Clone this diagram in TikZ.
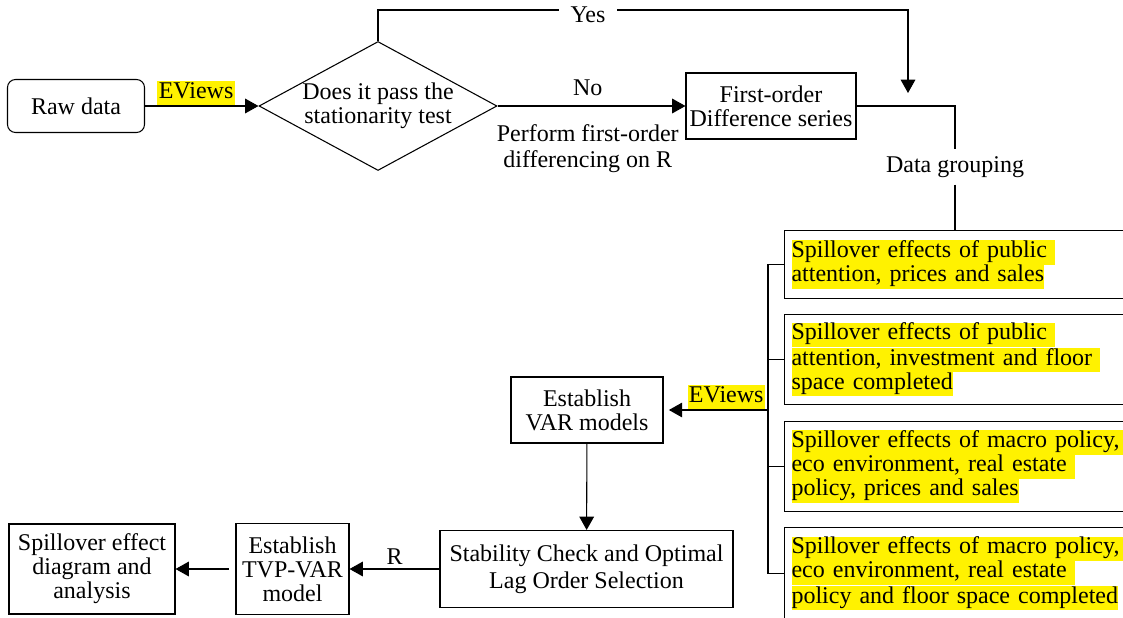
\documentclass[tikz,border=0pt]{standalone}
\usepackage{fontspec}
\setmainfont{Liberation Serif}
\usetikzlibrary{arrows.meta,shapes.geometric}
\newcommand\hlline[1]{{\setlength{\fboxsep}{0pt}\colorbox{yellow}{\strut#1}}}
\tikzset{%
  >={Triangle[length=10pt,width=11pt]}, % filled arrow heads
  every node/.style={font=\fontsize{18}{18}\selectfont},
  box/.style={draw,rectangle,inner sep=2pt,align=center},
  spill/.style={draw,rectangle,anchor=north west,minimum width=259.5pt,
    text width=249pt,inner xsep=5.25pt,inner ysep=0pt,align=left},
  soft label/.style={fill=yellow,inner xsep=1pt,inner ysep=0pt}%
}
\begin{document}
\begin{tikzpicture}[x=0.75pt,y=-0.75pt,line width=0.8pt] % "SPILLOVER" flow chart

\useasboundingbox (0,0) rectangle (1123,617);
\clip (0,0) rectangle (1123,617);

% top row
\node[box,rounded corners=6pt,minimum width=102.75pt,minimum height=39.75pt] (raw) at (76,106) {Raw data};
\node[draw,diamond,shape aspect=1.845,inner sep=0pt,minimum width=178.5pt,
  minimum height=96.75pt,align=center] (test) at (378,106) {Does it pass the\\stationarity test};
\node[box,minimum width=127.5pt,minimum height=49.5pt] (diff) at (771,106) {First-order\\Difference series};
\node[inner sep=0pt,minimum height=25.5pt] (group) at (955,167) {Data grouping};

% grouped data
\node[spill,minimum height=51pt] (g1) at (784,230)
  {\hlline{Spillover effects of public\ }\\\hlline{attention, prices and sales}};
\node[spill,minimum height=67.5pt] (g2) at (784,314)
  {\hlline{Spillover effects of public\ }\\\hlline{attention, investment and floor\ }\\\hlline{space completed}};
\node[spill,minimum height=67.5pt] (g3) at (784,421)
  {\hlline{Spillover effects of macro policy,\ }\\\hlline{eco environment, real estate\ }\\\hlline{policy, prices and sales}};
\node[spill,minimum height=69pt] (g4) at (784,527)
  {\hlline{Spillover effects of macro policy,\ }\\\hlline{eco environment, real estate\ }\\\hlline{policy and floor space completed}};

% models
\node[box,minimum width=114pt,minimum height=49.5pt] (var) at (587,410) {Establish\\VAR models};
\node[box,minimum width=219.75pt,minimum height=57.75pt,font=\fontsize{18}{20}\selectfont] (stab) at (586.5,569)
  {Stability Check and Optimal\\Lag Order Selection};
\node[box,minimum width=84.75pt,minimum height=68.25pt] (tvp) at (292.5,569) {Establish\\TVP-VAR\\model};
\node[box,minimum width=124.5pt,minimum height=67.5pt] (out) at (92,569) {Spillover effect\\diagram and\\analysis};

\coordinate (drop) at (908,93); % end of the "Yes" branch
\coordinate (brk) at (768,410); % bracket of the groups

\draw[->] (raw) -- node[soft label,above,pos=0.45] {\strut EViews} (test);
\draw[->] (test.north) -- (test.north |- 0,10) -| (drop);
\node[fill=white,inner xsep=9pt,inner ysep=1pt] (yes) at (588,15) {Yes};
\draw[->] (test) -- node[above=4pt,pos=0.48] {No}
  node[below=10pt,pos=0.48,font=\fontsize{18}{20}\selectfont,align=center] {Perform first-order\\differencing on R} (diff);
\draw (diff) -| (group);
\draw (group) -- (group |- g1.north);

\draw (g1.west) -| (brk |- g4.west) -- (g4.west);
\draw (g2.west) -- (brk |- g2.west);
\draw (g3.west) -- (brk |- g3.west);
\draw[->,shorten >=4pt] (brk) -- node[soft label,above,pos=0.4] {\strut EViews} (var);

\draw[->] (var) -- (stab);
\draw[->] (stab) -- node[above] {R} (tvp);
\draw[->,shorten <=5pt] (tvp) -- (out);

\end{tikzpicture}
\end{document}
